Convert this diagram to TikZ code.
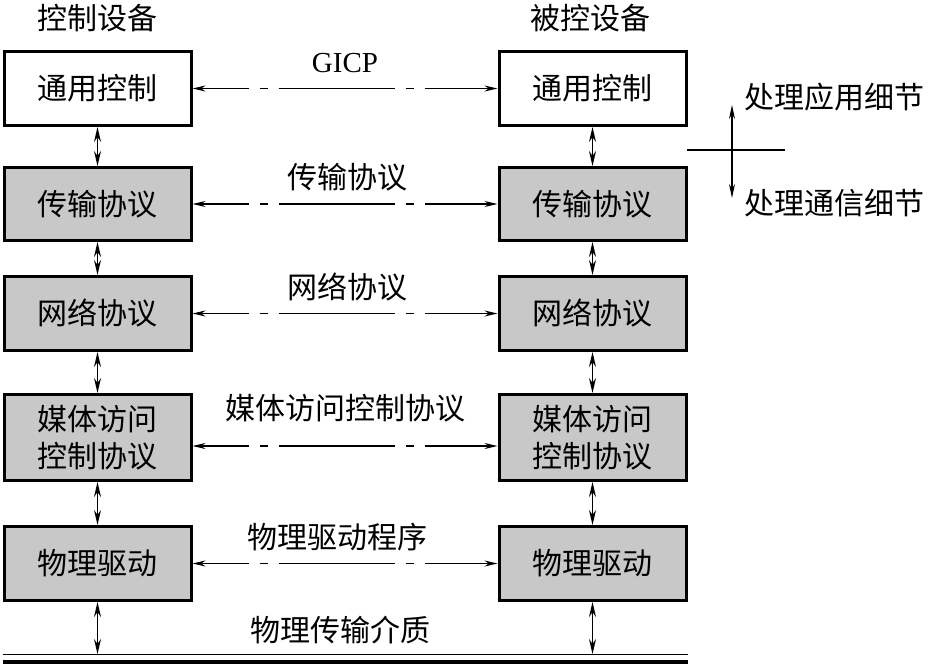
\documentclass[tikz,border=0pt]{standalone}
\usepackage{fontspec}
\setmainfont{Liberation Serif}
\newfontfamily\cjk{Noto Sans CJK SC}
\usetikzlibrary{arrows.meta}
\definecolor{boxgray}{RGB}{200,200,200}
\begin{document}
\begin{tikzpicture}[x=1pt,y=-1pt,
  txt/.style={font=\cjk\fontsize{30}{37}\selectfont, inner sep=0pt, align=center},
  box/.style={txt, draw, line width=3pt, minimum width=187pt, minimum height=#1},
  box/.default=74pt,
  gbox/.style={box=#1, fill=boxgray},
  gbox/.default=73pt,
  tip/.style={Stealth[length=13pt,width=6pt]},
  harrow/.style={line width=1.2pt, {Stealth[length=13pt,width=6pt]}-{Stealth[length=13pt,width=6pt]},
     dash pattern=on 48pt off 11pt on 8pt off 11pt on 116pt off 11pt on 8pt off 11pt on 200pt},
  varrow/.style={line width=1.5pt, {Stealth[length=15pt,width=7pt]}-{Stealth[length=15pt,width=7pt]}},
  lbl/.style={txt}
]
\useasboundingbox (0,0) rectangle (931,664);

% column headers
\node[lbl] (hl) at (97,18) {控制设备};
\node[lbl] (hr) at (590,18) {被控设备};

% left column
\node[box] (l1) at (97.5,88.5) {通用控制};
\node[gbox] (l2) at (97.5,204) {传输协议};
\node[gbox=74pt] (l3) at (97.5,313.5) {网络协议};
\node[gbox=86pt] (l4) at (97.5,437.5) {媒体访问\\控制协议};
\node[gbox=74pt] (l5) at (97.5,563.5) {物理驱动};

% right column
\node[box] (r1) at (592.5,88.5) {通用控制};
\node[gbox] (r2) at (592.5,204) {传输协议};
\node[gbox=74pt] (r3) at (592.5,313.5) {网络协议};
\node[gbox=86pt] (r4) at (592.5,437.5) {媒体访问\\控制协议};
\node[gbox=74pt] (r5) at (592.5,563.5) {物理驱动};

% horizontal peer arrows
\draw[harrow] (l1.east) -- (r1.west);
\draw[harrow] (l2.east) -- (r2.west);
\draw[harrow] (l3.east) -- (r3.west);
\draw[harrow] ([yshift=-8.5pt]l4.east) -- ([yshift=-8.5pt]r4.west);
\draw[harrow] (l5.east) -- (r5.west);

% peer labels
\node[font=\fontsize{29}{32}\selectfont, inner sep=0pt] (g1) at (345,63) {GICP};
\node[lbl] (g2) at (347,177) {传输协议};
\node[lbl] (g3) at (347,287) {网络协议};
\node[lbl] (g4) at (345,408) {媒体访问控制协议};
\node[lbl] (g5) at (337,537) {物理驱动程序};
\node[lbl] (g6) at (340,630) {物理传输介质};

% medium lines
\coordinate (mL) at (3,654);
\coordinate (mR) at (688,654);
\draw[line width=1pt] (mL) -- (mR);
\draw[line width=4.5pt] ([yshift=-8pt]mL) -- ([yshift=-8pt]mR);

% vertical arrows
\draw[varrow] (l1.south) -- (l2.north);
\draw[varrow] (l2.south) -- (l3.north);
\draw[varrow] (l3.south) -- (l4.north);
\draw[varrow] (l4.south) -- (l5.north);
\draw[varrow] (l5.south) -- (l5.south |- mL);
\draw[varrow] (r1.south) -- (r2.north);
\draw[varrow] (r2.south) -- (r3.north);
\draw[varrow] (r3.south) -- (r4.north);
\draw[varrow] (r4.south) -- (r5.north);
\draw[varrow] (r5.south) -- (r5.south |- mR);

% right side legend
\coordinate (sA) at (687,150);
\coordinate (sB) at (785,150);
\draw[line width=2pt] (sA) -- (sB);
\coordinate (vT) at (732,105);
\coordinate (vB) at (732,198);
\draw[line width=1.3pt, {Stealth[length=14pt,width=6pt]}-{Stealth[length=14pt,width=6pt]}] (vT) -- (vB);
\node[lbl, anchor=west] (t1) at (744,97) {处理应用细节};
\node[lbl, anchor=west] (t2) at (744,203) {处理通信细节};
\end{tikzpicture}
\end{document}
